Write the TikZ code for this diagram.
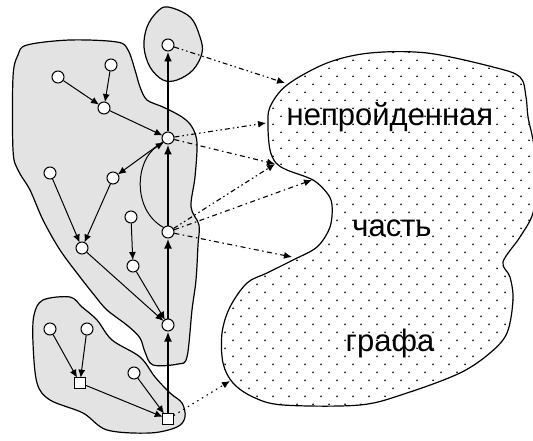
\documentclass[tikz,border=0pt]{standalone}
\usepackage{fontspec}
\setmainfont{Liberation Sans}
\usetikzlibrary{arrows.meta}
\begin{document}
\begin{tikzpicture}[x=1pt,y=-1pt,
  vtx/.style={circle,draw,fill=white,line width=1pt,minimum size=12pt,inner sep=0pt},
  sqv/.style={rectangle,draw,fill=white,line width=1pt,minimum size=10.5pt,inner sep=0pt},
  region/.style={draw,fill=gray!22,line width=1.2pt},
  edge/.style={line width=1pt,-{Latex[length=8pt,width=7pt]},shorten >=-0.5pt},
  thickarr/.style={line width=2.8pt,-{Latex[length=10pt,width=8pt]}},
  dd/.style={line width=1.1pt,dash pattern=on 5pt off 3pt on 1.5pt off 3pt on 1.5pt off 3pt,-{Latex[length=8pt,width=7pt]}},
  ds/.style={line width=1.1pt,dash pattern=on 5pt off 3.5pt on 1.5pt off 3.5pt,-{Latex[length=8pt,width=7pt]}},
  dt/.style={line width=1.1pt,dash pattern=on 1.5pt off 4pt,-{Latex[length=8pt,width=7pt]}},
  lbl/.style={font=\fontsize{31}{31}\selectfont,inner sep=0pt}
]
\useasboundingbox (0,0) rectangle (533,441);
% grey regions
\draw[region] plot[smooth cycle,tension=0.55] coordinates {(27,45) (70,40) (117,42) (128,50) (135,70) (140,87) (147,100) (163,107) (182,117) (192,127) (197,143) (195,177) (191,207) (199,225) (198,245) (196,280) (192,310) (187,357) (178,364) (153,365) (145,352) (140,338) (128,326) (107,310) (95,296) (80,277) (60,250) (43,220) (30,190) (18,170) (13,150) (13,77) (18,55)};
\draw[region] plot[smooth cycle,tension=0.55] coordinates {(43,300) (70,297) (82,307) (97,320) (112,340) (140,357) (155,377) (170,393) (182,403) (185,417) (177,427) (150,433) (107,430) (83,413) (50,400) (37,383) (33,343) (34,315)};
\draw[region] plot[smooth cycle,tension=0.6] coordinates {(168,7) (190,17) (200,37) (202,53) (193,70) (177,80) (163,80) (150,67) (144,47) (147,27) (157,12)};
% dotted blob
\def\blobpath{plot[smooth cycle,tension=0.55] coordinates {(287,85) (327,63) (370,53) (427,53) (493,67) (520,77) (526,97) (528,117) (533,140) (538,175) (533,213) (520,237) (503,262) (510,277) (513,300) (507,333) (490,353) (460,373) (407,393) (360,405) (283,405) (253,397) (233,383) (223,363) (222,333) (230,307) (247,283) (267,273) (293,260) (317,247) (330,227) (332,205) (327,193) (313,180) (287,170) (276,163) (270,150) (268,127) (270,107)}}
\fill[white] \blobpath;
\begin{scope}
\clip \blobpath;
\foreach \r in {0,...,46}{
  \foreach \k in {13,...,33}{
    \fill ({1+16*\k+8*mod(\r,2)},{44.3+8*\r}) circle[radius=0.95pt];
  }
}
\end{scope}
\draw[line width=1.2pt] \blobpath;
% labels
\node[lbl] (t1) at (390,117) {непройденная};
\node[lbl] (t2) at (392,228) {часть};
\node[lbl] (t3) at (390,343) {графа};
% vertices
\node[vtx] (A) at (168,45) {};
\node[vtx] (B) at (168,138) {};
\node[vtx] (C) at (168,232) {};
\node[vtx] (D) at (168,325) {};
\node[sqv] (E) at (168,419) {};
\node[vtx] (n1) at (58,77) {};
\node[vtx] (n2) at (111,65) {};
\node[vtx] (n3) at (104,108) {};
\node[vtx] (n4) at (50,173) {};
\node[vtx] (n5) at (113,178) {};
\node[vtx] (n6) at (82,248) {};
\node[vtx] (n7) at (131,217) {};
\node[vtx] (n8) at (133,266) {};
\node[vtx] (n9) at (50,329) {};
\node[vtx] (n10) at (87,329) {};
\node[sqv] (n11) at (80,383) {};
\node[vtx] (n12) at (134,373) {};
% tree edges
\draw[edge] (n1) -- (n3);
\draw[edge] (n2) -- (n3);
\draw[edge] (n3) -- (B);
\draw[edge] (B) -- (n5);
\draw[edge] (n4) -- (n6);
\draw[edge] (n5) -- (n6);
\draw[edge] (n7) -- (n8);
\draw[edge] (n6) -- (D);
\draw[edge] (n8) -- (D);
\draw[edge] (n9) -- (n11);
\draw[edge] (n10) -- (n11);
\draw[edge] (n11) -- (E);
\draw[edge] (n12) -- (E);
\draw[edge] (C.north west) .. controls (132,210) and (135,160) .. (B.south west);
% thick path
\draw[thickarr] (E) -- (D);
\draw[thickarr] (D) -- (C);
\draw[thickarr] (C) -- (B);
\draw[thickarr] (B) -- (A);
% arrows to the unvisited part
\coordinate (pA) at (285,83);
\coordinate (pB1) at (266,123);
\coordinate (pX) at (275,164);
\coordinate (pC2) at (312,180);
\coordinate (pC3) at (292,257);
\coordinate (pE) at (230,381);
\draw[dd] (A) -- (pA);
\draw[dd] (B) -- (pB1);
\draw[ds] (B) -- (pX);
\draw[dd] (C) -- (pX);
\draw[ds] (C) -- (pC2);
\draw[ds] (C) -- (pC3);
\draw[dt] (E) -- (pE);
\end{tikzpicture}
\end{document}
